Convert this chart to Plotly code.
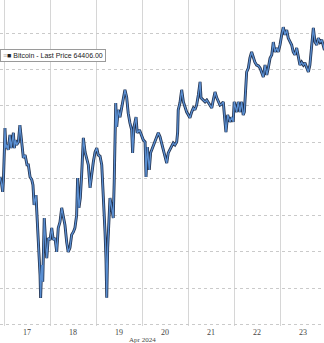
import pandas as pd
import plotly.graph_objects as go

# Readings of the Bitcoin price line (hours after 2024-04-17 00:00, USD)
hours_since_apr17 = [
    -2.1, -1.3, -0.7, -0.3, 0.2, 0.5, 1.0, 1.6, 2.2, 3.1,
    3.7, 4.2, 4.9, 5.4, 6.0, 6.6, 7.5, 8.3, 9.2, 10.1,
    11.0, 12.0, 12.7, 13.6, 14.5, 15.1, 15.7, 16.7, 17.2, 17.7,
    18.3, 18.8, 19.1, 19.7, 20.2, 21.0, 21.9, 22.3, 23.1, 24.0,
    24.9, 25.7, 26.6, 27.5, 28.3, 29.2, 30.1, 30.9, 31.8, 32.7,
    33.5, 34.4, 35.3, 36.2, 37.0, 37.9, 38.4, 39.1, 39.8, 40.5,
    41.4, 42.3, 43.1, 44.0, 44.9, 45.8, 46.6, 47.5, 48.4, 49.2,
    50.1, 51.0, 51.8, 52.7, 53.2, 53.6, 54.1, 54.8, 55.3, 56.2,
    57.0, 57.5, 57.9, 58.3, 58.8, 59.6, 60.5, 61.4, 62.2, 63.1,
    64.0, 64.8, 65.7, 66.6, 67.1, 67.8, 68.9, 69.5, 70.7, 71.8,
    72.7, 73.6, 74.1, 74.8, 75.8, 76.5, 77.6, 78.8, 79.7, 80.5,
    81.4, 82.3, 83.1, 84.0, 84.9, 85.7, 86.6, 87.5, 88.3, 89.2,
    90.1, 90.6, 90.9, 91.8, 92.7, 93.6, 94.4, 95.3, 96.2, 97.0,
    97.9, 98.8, 99.6, 100.5, 101.4, 102.3, 102.8, 103.8, 104.9, 105.8,
    106.6, 107.5, 108.4, 109.2, 110.1, 111.0, 111.8, 112.7, 113.6, 114.4,
    115.3, 115.8, 116.7, 117.9, 118.8, 119.6, 120.1, 121.4, 122.2, 123.1,
    124.0, 124.8, 125.4, 126.1, 126.6, 127.5, 128.3, 129.2, 130.1, 130.9,
    131.8, 132.7, 133.6, 134.4, 135.3, 136.2, 137.1, 137.9, 138.8, 139.7,
    140.5, 141.4, 142.3, 143.1, 144.0, 144.9, 145.7, 146.6, 147.5, 148.3,
    149.2, 150.1, 150.9, 151.8, 152.7, 153.5, 154.4, 155.3, 156.2, 157.0,
    157.9, 158.8, 159.6, 160.5, 161.4, 162.3, 163.2, 164.0, 164.9, 165.8,
    166.6, 167.2,
]

prices = [
    63050, 62880, 62640, 62970, 63790, 64390, 63840, 63930, 63790, 64200,
    63840, 63980, 64260, 63840, 64060, 63930, 64010, 64470, 63930, 63570,
    63650, 63380, 63380, 63050, 62970, 62830, 62280, 62550, 62000, 61540,
    60820, 60360, 59730, 60630, 60170, 61920, 61100, 60820, 61370, 61320,
    61650, 61320, 61370, 60990, 61650, 61810, 62200, 62000, 61730, 61260,
    60990, 61100, 61460, 61540, 61650, 62000, 63020, 62200, 62470, 63100,
    64120, 63730, 63570, 63380, 62750, 63190, 63460, 63730, 63840, 63650,
    63620, 63380, 62640, 61540, 60820, 59730, 61100, 62000, 62470, 62200,
    61920, 62910, 64890, 65080, 64420, 64890, 64690, 64970, 65160, 65440,
    65240, 64800, 64530, 64340, 63710, 64420, 64690, 64260, 64340, 64150,
    64060, 64010, 63050, 63870, 63240, 63710, 63870, 64060, 64150, 64260,
    64150, 63980, 63790, 63600, 63430, 63710, 63790, 63870, 63980, 63930,
    64010, 64280, 64890, 65080, 65440, 65110, 64940, 64830, 64750, 64670,
    64830, 64940, 64890, 65020, 65300, 65660, 65220, 65160, 65110, 65160,
    65080, 65020, 64940, 65160, 65380, 65220, 65110, 65020, 65050, 65110,
    64560, 64280, 64750, 64560, 64690, 64560, 65110, 64830, 65110, 64830,
    65110, 64750, 64830, 65660, 65930, 66040, 66310, 66480, 66310, 66200,
    66120, 66100, 66040, 65930, 65790, 66120, 65850, 66040, 66310, 66400,
    66750, 66480, 66590, 66480, 66670, 66950, 67160, 66950, 67080, 66860,
    66750, 66670, 66480, 66400, 66590, 66310, 66120, 66200, 66120, 66180,
    66070, 65930, 66120, 66590, 67140, 66750, 66670, 66860, 66750, 66810,
    66590, 66530,
]

day_labels = ["17", "18", "19", "20", "21", "22", "23"]
day_dates = ["2024-04-17", "2024-04-18", "2024-04-19", "2024-04-20",
             "2024-04-21", "2024-04-22", "2024-04-23"]
legend_text = "Bitcoin - Last Price 64406.00"
month_label = "Apr 2024"

base = pd.Timestamp("2024-04-17 00:00")
times = [base + pd.Timedelta(hours=h) for h in hours_since_apr17]
x_start = base - pd.Timedelta(hours=2.09)
x_end = base + pd.Timedelta(hours=166.96)
noon_ticks = [pd.Timestamp(d) + pd.Timedelta(hours=12) for d in day_dates]

fig = go.Figure()
fig.add_trace(go.Scatter(x=times, y=prices, mode="lines",
                         line=dict(color="#22314d", width=2.9),
                         hoverinfo="skip", showlegend=False))
fig.add_trace(go.Scatter(x=times, y=prices, mode="lines",
                         line=dict(color="#5a8fd2", width=1.3),
                         showlegend=False))

fig.update_layout(
    width=324, height=343,
    margin=dict(l=0, r=0, t=0, b=17),
    paper_bgcolor="white", plot_bgcolor="white",
    showlegend=False,
    xaxis=dict(
        range=[x_start, x_end],
        tickmode="array", tickvals=noon_ticks, ticktext=day_labels,
        showgrid=False, ticks="", zeroline=False, showline=False,
        tickfont=dict(family="Liberation Serif", size=8, color="#444"),
        minor=dict(tickmode="linear", tick0="2024-04-17", dtick=86400000,
                   showgrid=True, gridcolor="#d6d6d6", gridwidth=1, ticks=""),
    ),
    yaxis=dict(
        range=[58957, 67906],
        tickmode="linear", tick0=59000, dtick=1000,
        showticklabels=False, zeroline=False, showline=False,
        showgrid=True, gridcolor="#cacaca", gridwidth=1, griddash="dot",
    ),
    annotations=[
        dict(text="<span style='color:#aaaaaa'>≡</span>■ " + legend_text,
             xref="paper", yref="paper", x=0.0, y=1 - 55.5 / 326,
             xanchor="left", yanchor="middle", showarrow=False,
             font=dict(family="Liberation Sans", size=7, color="#222"),
             bgcolor="white", bordercolor="#9a9a9a", borderwidth=1, borderpad=2),
        dict(text=month_label, xref="x", yref="paper",
             x=pd.Timestamp("2024-04-20"), y=-14 / 326,
             xanchor="center", yanchor="middle", showarrow=False,
             font=dict(family="Liberation Serif", size=7, color="#444")),
    ],
)

fig.write_html("out.html")
